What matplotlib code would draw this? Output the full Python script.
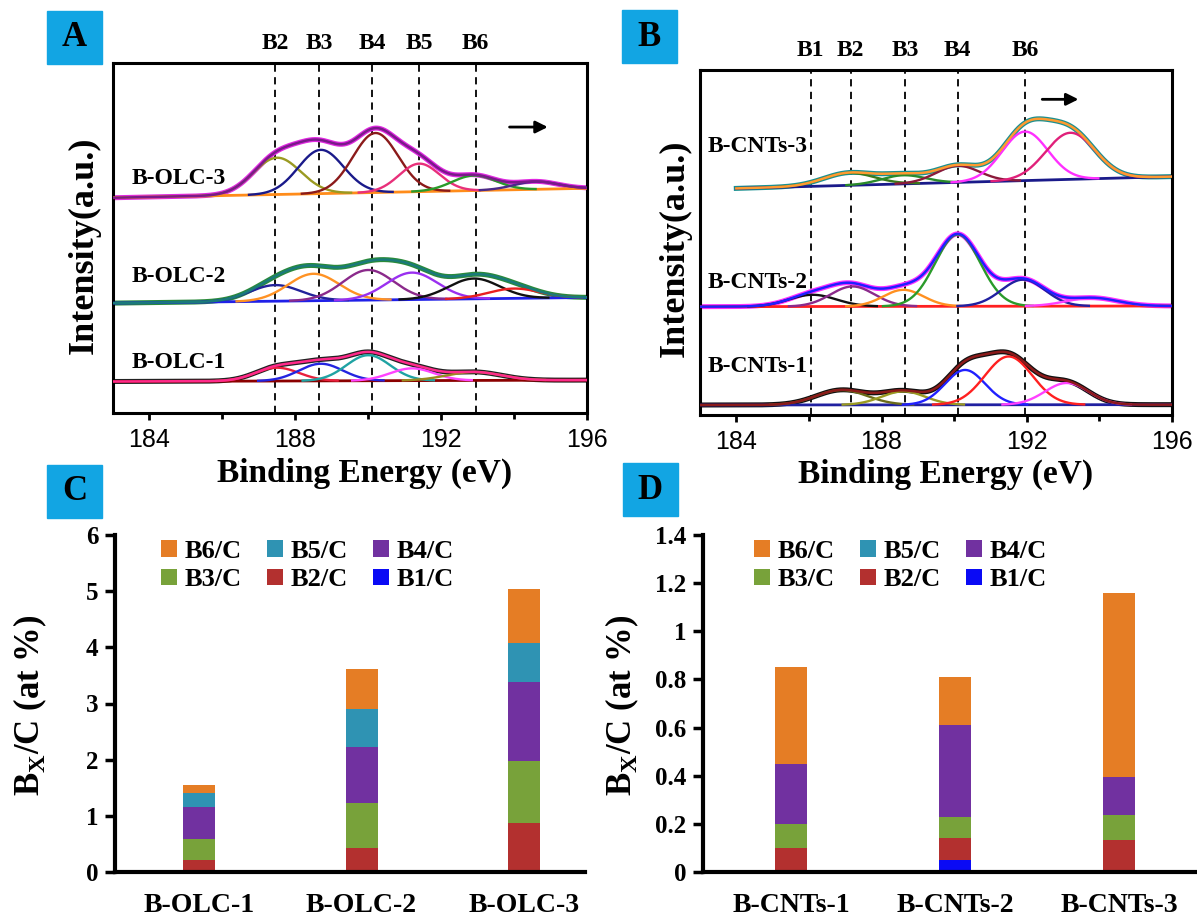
import numpy as np
import matplotlib.pyplot as plt
from matplotlib.patches import Rectangle
from matplotlib.transforms import blended_transform_factory

SERIF = ['Liberation Serif', 'DejaVu Serif']
SANS = ['Liberation Sans', 'DejaVu Sans']

# ---- XPS B1s spectra (peak fits) ----
# guide lines (eV)
a_lines = [187.45, 188.65, 190.1, 191.4, 192.95]
a_line_names = ['B2', 'B3', 'B4', 'B5', 'B6']
b_lines = [186.05, 187.15, 188.65, 190.1, 191.95]
b_line_names = ['B1', 'B2', 'B3', 'B4', 'B6']

# B-OLC samples: baseline level at 183 and 196 eV, then fitted components
olc_names = ['B-OLC-1', 'B-OLC-2', 'B-OLC-3']
olc_base = [(9.0, 9.4), (31.4, 33.0), (61.5, 64.2)]
olc_centers = [
    [187.5, 188.7, 190.0, 191.2, 192.9],
    [187.45, 188.5, 190.0, 191.2, 192.9, 194.0],
    [187.5, 188.7, 190.2, 191.4, 192.9, 194.6],
]
olc_heights = [
    [3.8, 4.9, 7.3, 3.5, 2.4],
    [4.6, 7.7, 8.6, 7.7, 5.8, 2.8],
    [10.5, 12.5, 17.0, 8.0, 4.3, 2.2],
]
olc_widths = [
    [0.6, 0.6, 0.6, 0.6, 0.75],
    [0.7, 0.7, 0.7, 0.7, 0.7, 0.7],
    [0.65, 0.62, 0.62, 0.55, 0.6, 0.6],
]

# B-CNTs samples
cnt_names = ['B-CNTs-1', 'B-CNTs-2', 'B-CNTs-3']
cnt_base = [(2.9, 3.0), (31.4, 31.6), (65.4, 69.1)]
cnt_centers = [
    [186.9, 188.6, 190.3, 191.5, 193.1],
    [186.1, 187.2, 188.6, 190.1, 191.9, 193.8],
    [187.1, 188.6, 190.1, 191.95, 193.2],
]
cnt_heights = [
    [4.3, 3.9, 10.1, 14.0, 6.3],
    [3.4, 5.8, 4.8, 20.8, 7.7, 2.4],
    [3.6, 2.5, 4.8, 14.2, 13.5],
]
cnt_widths = [
    [0.7, 0.6, 0.55, 0.65, 0.6],
    [0.65, 0.6, 0.55, 0.62, 0.6, 0.7],
    [0.7, 0.6, 0.6, 0.63, 0.68],
]

# ---- B_x/C atomic ratios (at %) ----
olc_bars = {
    'B1/C': [0.0, 0.0, 0.0],
    'B2/C': [0.22, 0.43, 0.88],
    'B3/C': [0.36, 0.80, 1.10],
    'B4/C': [0.57, 1.00, 1.40],
    'B5/C': [0.25, 0.68, 0.70],
    'B6/C': [0.15, 0.70, 0.95],
}
cnt_bars = {
    'B1/C': [0.0, 0.05, 0.0],
    'B2/C': [0.10, 0.09, 0.135],
    'B3/C': [0.10, 0.09, 0.10],
    'B4/C': [0.25, 0.38, 0.16],
    'B5/C': [0.0, 0.0, 0.0],
    'B6/C': [0.40, 0.20, 0.765],
}
bar_colors = {'B1/C': '#0a0af5', 'B2/C': '#b3302f', 'B3/C': '#78a23a',
              'B4/C': '#7131a0', 'B5/C': '#2f93b3', 'B6/C': '#e57d25'}

# colours: raw data, fit envelope, baseline, components
olc_styles = [
    ('#222222', '#ff2a8a', '#8b0000', ['#e8203c', '#2424e0', '#1fa3a3', '#ff44ff', '#9a8a20']),
    ('#2a8a3a', '#1a7a7a', '#2020e8', ['#22229a', '#ff9224', '#8b2a8b', '#9a30f0', '#111111', '#e82020']),
    ('#e028e0', '#7a1a8a', '#ff8c1a', ['#9a9a22', '#1a1a8a', '#8b1a1a', '#e8307a', '#2a9a2a', '#4a2a8a']),
]
cnt_styles = [
    ('#111111', '#8b1a1a', '#2020a0', ['#6b6b1a', '#9a9a22', '#2020ff', '#ff2020', '#ff40ff']),
    ('#ff30ff', '#2020ff', '#ff2020', ['#111111', '#8b2a8b', '#ff9020', '#2a9a2a', '#2020a0', '#ff40ff']),
    ('#1a9090', '#ff9a30', '#1a1a8a', ['#3a7a1a', '#2a8a2a', '#8b1a3a', '#ff30ff', '#e0207a']),
]

ev = np.linspace(183, 196, 1301)


def draw_spectrum(ax, base, centers, heights, widths, style, x0=183.0):
    raw_c, fit_c, base_c, comp_c = style
    x = ev[ev >= x0 - 1e-9]
    bl = np.interp(x, [183, 196], base)
    comps = [h * np.exp(-(x - c) ** 2 / (2 * w ** 2))
             for c, h, w in zip(centers, heights, widths)]
    env = bl + np.sum(comps, axis=0)
    ax.plot(x, env, color=raw_c, lw=3.6, zorder=2)
    ax.plot(x, bl, color=base_c, lw=2.0, zorder=3)
    for comp, col in zip(comps, comp_c):
        y = np.where(comp > 0.08, bl + comp, np.nan)
        ax.plot(x, y, color=col, lw=1.7, zorder=4)
    ax.plot(x, env, color=fit_c, lw=1.8, zorder=5)


def spectrum_axes(ax, lines, line_names):
    ax.set_xlim(183, 196)
    ax.set_ylim(0, 100)
    ax.set_xticks([184, 188, 192, 196])
    ax.set_xticks([186, 190, 194], minor=True)
    ax.set_yticks([])
    ax.tick_params(axis='x', which='major', direction='out', length=5, width=2,
                   labelsize=18, pad=6)
    ax.tick_params(axis='x', which='minor', direction='out', length=4, width=2)
    for lab in ax.get_xticklabels():
        lab.set_family(SANS)
    for s in ax.spines.values():
        s.set_linewidth(2.2)
    trans = blended_transform_factory(ax.transData, ax.transAxes)
    for xv, name in zip(lines, line_names):
        ax.axvline(xv, color='black', ls=(0, (4, 3)), lw=1.3, zorder=1)
        ax.text(xv, 1.057, name, transform=trans, ha='center', va='center',
                family=SERIF, weight='bold', fontsize=17)


def bar_axes(ax, bars, names, xlim, ymax, yticks, ticklabels, leg_x):
    x = np.arange(1, len(names) + 1)
    bottom = np.zeros(len(names))
    handles = {}
    for key in ['B1/C', 'B2/C', 'B3/C', 'B4/C', 'B5/C', 'B6/C']:
        vals = np.array(bars[key])
        handles[key] = ax.bar(x, vals, 0.197, bottom=bottom, color=bar_colors[key],
                              label=key, zorder=2)
        bottom += vals
    ax.set_xlim(*xlim)
    ax.set_ylim(0, ymax)
    ax.set_yticks(yticks)
    ax.set_yticklabels(ticklabels)
    ax.set_xticks(x)
    ax.set_xticklabels(names)
    ax.tick_params(axis='y', direction='out', length=7, width=2.5, labelsize=18, pad=5)
    ax.tick_params(axis='x', length=0, labelsize=20, pad=15)
    for lab in ax.get_xticklabels() + ax.get_yticklabels():
        lab.set_family(SERIF)
        lab.set_weight('bold')
    ax.spines['top'].set_visible(False)
    ax.spines['right'].set_visible(False)
    ax.spines['left'].set_linewidth(3)
    ax.spines['bottom'].set_linewidth(3)
    order = ['B6/C', 'B3/C', 'B5/C', 'B2/C', 'B4/C', 'B1/C']
    ax.legend([handles[k] for k in order], order, ncol=3, loc='upper left',
              bbox_to_anchor=(leg_x, 0.985), borderaxespad=0, borderpad=0,
              frameon=False, handlelength=0.6, handleheight=0.6,
              handletextpad=0.3, columnspacing=0.95, labelspacing=0.2,
              prop={'family': SERIF, 'weight': 'bold', 'size': 19})


W, H = 1197, 922


def box(l, t, r, b):
    return [l / W, 1 - b / H, (r - l) / W, (b - t) / H]


fig = plt.figure(figsize=(W / 100, H / 100), dpi=100)
plt.rcParams['mathtext.fontset'] = 'custom'
plt.rcParams['mathtext.rm'] = 'Liberation Serif:bold'

axA = fig.add_axes(box(113, 63, 587, 413))
axB = fig.add_axes(box(700, 70, 1172, 415))
axC = fig.add_axes(box(115, 535, 585, 872))
axD = fig.add_axes(box(703, 535, 1197, 872))

for i in range(3):
    draw_spectrum(axA, olc_base[i], olc_centers[i], olc_heights[i], olc_widths[i], olc_styles[i])
    x0 = 184.0 if i == 2 else 183.0
    draw_spectrum(axB, cnt_base[i], cnt_centers[i], cnt_heights[i], cnt_widths[i], cnt_styles[i], x0=x0)

spectrum_axes(axA, a_lines, a_line_names)
spectrum_axes(axB, b_lines, b_line_names)

for (name, yv) in zip(olc_names, [14.3, 39.0, 67.0]):
    axA.text(183.5, yv, name, ha='left', va='center', family=SERIF,
             weight='bold', fontsize=17, zorder=6)
for (name, yv) in zip(cnt_names, [14.0, 38.4, 77.8]):
    axB.text(183.2, yv, name, ha='left', va='center', family=SERIF,
             weight='bold', fontsize=17, zorder=6)

axA.annotate('', xy=(195.0, 81.7), xytext=(193.8, 81.7),
             arrowprops=dict(arrowstyle='-|>', color='black', lw=2, mutation_scale=18))
axB.annotate('', xy=(193.5, 91.5), xytext=(192.35, 91.5),
             arrowprops=dict(arrowstyle='-|>', color='black', lw=2, mutation_scale=18))

for xc, yc in [(84, 245), (675, 248)]:
    fig.text(xc / W, 1 - yc / H, 'Intensity(a.u.)', rotation=90, ha='center',
             va='center', family=SERIF, weight='bold', fontsize=26)
for xc, yc in [(365, 473), (946, 474)]:
    fig.text(xc / W, 1 - yc / H, 'Binding Energy (eV)', ha='center',
             va='center', family=SERIF, weight='bold', fontsize=24)

bar_axes(axC, olc_bars, olc_names, (0.483, 3.375), 6, range(7),
         [str(v) for v in range(7)], 0.098)
bar_axes(axD, cnt_bars, cnt_names, (0.463, 3.475), 1.4, np.arange(0, 1.41, 0.2),
         ['0', '0.2', '0.4', '0.6', '0.8', '1', '1.2', '1.4'], 0.103)
for xc in [30, 622]:
    fig.text(xc / W, 1 - 705 / H, r'B$_\mathregular{X}$/C (at %)', rotation=90,
             ha='center', va='center', family=SERIF, weight='bold', fontsize=25)

# panel letters
for letter, (l, t) in zip('ABCD', [(47, 11), (622, 10), (47, 465), (623, 463)]):
    fig.patches.append(Rectangle((l / W, 1 - (t + 53) / H), 55 / W, 53 / H,
                                 transform=fig.transFigure, color='#12a5e3', zorder=0))
    fig.text((l + 27.5) / W, 1 - (t + 27) / H, letter, ha='center', va='center',
             family=SERIF, weight='bold', fontsize=25)

fig.savefig('out.png', dpi=100)
